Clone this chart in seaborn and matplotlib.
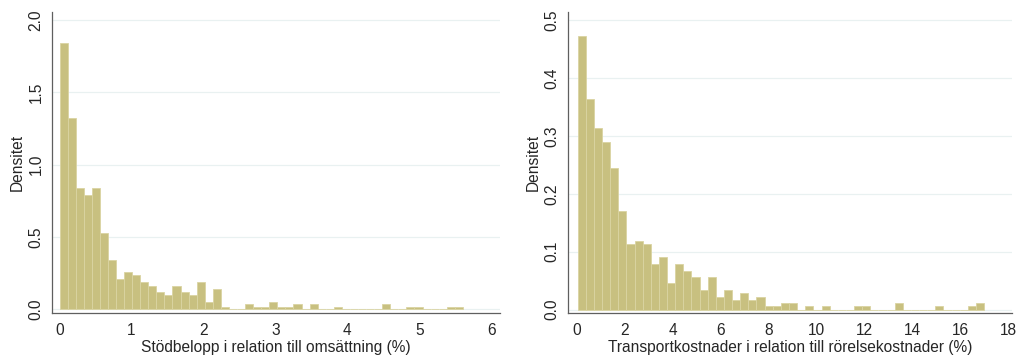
import numpy as np
import pandas as pd
import matplotlib
matplotlib.use("Agg")
import matplotlib.pyplot as plt
import seaborn as sns

# Histogram densities (50 bins per panel)
stod_start, stod_width = 0.005, 0.112
stod_density = [1.84, 1.325, 0.84, 0.79, 0.84, 0.53, 0.34, 0.21, 0.26, 0.24,
                0.19, 0.16, 0.12, 0.10, 0.16, 0.12, 0.10, 0.19, 0.05, 0.14,
                0.018, 0, 0, 0.035, 0.018, 0.018, 0.053, 0.018, 0.018, 0.035,
                0, 0.035, 0, 0, 0.018, 0, 0, 0, 0, 0,
                0.035, 0, 0, 0.018, 0.018, 0, 0, 0, 0.018, 0.018]

transp_start, transp_width = 0.04, 0.339
transp_density = [0.473, 0.363, 0.313, 0.290, 0.244, 0.170, 0.113, 0.119, 0.113, 0.078,
                  0.090, 0.045, 0.078, 0.067, 0.056, 0.033, 0.056, 0.022, 0.034, 0.017,
                  0.028, 0.017, 0.022, 0.006, 0.006, 0.011, 0.011, 0, 0.006, 0,
                  0.006, 0, 0, 0, 0.006, 0.006, 0, 0, 0, 0.011,
                  0, 0, 0, 0, 0.006, 0, 0, 0, 0.006, 0.011]

stod_xticks = [0, 1, 2, 3, 4, 5, 6]
stod_yticks = [0.0, 0.5, 1.0, 1.5, 2.0]
transp_xticks = [0, 2, 4, 6, 8, 10, 12, 14, 16, 18]
transp_yticks = [0.0, 0.1, 0.2, 0.3, 0.4, 0.5]

sns.set_style("white")
plt.rcParams['font.family'] = ['Liberation Sans', 'DejaVu Sans']

fig = plt.figure(figsize=(10.18, 3.6), dpi=100)
ax1 = fig.add_axes([0.0511, 0.1306, 0.440, 0.836])
ax2 = fig.add_axes([0.558, 0.1306, 0.436, 0.836])

bar_color = '#c8c080'
edge_color = '#dad4a2'
axis_color = '#5f5f5f'


def draw_hist(ax, start, width, dens, xticks, yticks, xlabel, xlim, ylim):
    dens = np.array(dens)
    edges = start + width * np.arange(len(dens) + 1)
    centers = (edges[:-1] + edges[1:]) / 2
    df = pd.DataFrame({'x': centers, 'w': dens})
    df = df[df['w'] > 0]
    for y in yticks:
        ax.axhline(y, color='#e9f1f1', lw=0.9, zorder=0)
    sns.histplot(data=df, x='x', weights='w', bins=edges.tolist(), stat='count',
                 color=bar_color, edgecolor=edge_color, linewidth=0.6,
                 alpha=1, ax=ax, zorder=2)
    ax.set_xlim(*xlim)
    ax.set_ylim(*ylim)
    ax.set_xticks(xticks)
    ax.set_yticks(yticks)
    ax.set_yticklabels([f"{t:.1f}" for t in yticks])
    ax.set_xlabel(xlabel, fontsize=11.2, labelpad=2)
    ax.set_ylabel('Densitet', fontsize=11.2, labelpad=3)
    ax.tick_params(axis='both', labelsize=11.2, length=4, width=0.8,
                   color=axis_color, pad=3, direction='out')
    ax.tick_params(axis='y', labelrotation=90, pad=2)
    for lab in ax.get_yticklabels():
        lab.set_va('center')
    sns.despine(ax=ax)
    for side in ['left', 'bottom']:
        ax.spines[side].set_color(axis_color)
        ax.spines[side].set_linewidth(0.9)
    ax.grid(False)


draw_hist(ax1, stod_start, stod_width, stod_density, stod_xticks, stod_yticks,
          'Stödbelopp i relation till omsättning (%)', (-0.10, 6.12), (-0.025, 2.055))
draw_hist(ax2, transp_start, transp_width, transp_density, transp_xticks, transp_yticks,
          'Transportkostnader i relation till rörelsekostnader (%)', (-0.36, 18.15), (-0.006, 0.514))

fig.savefig('out.png', dpi=100)
